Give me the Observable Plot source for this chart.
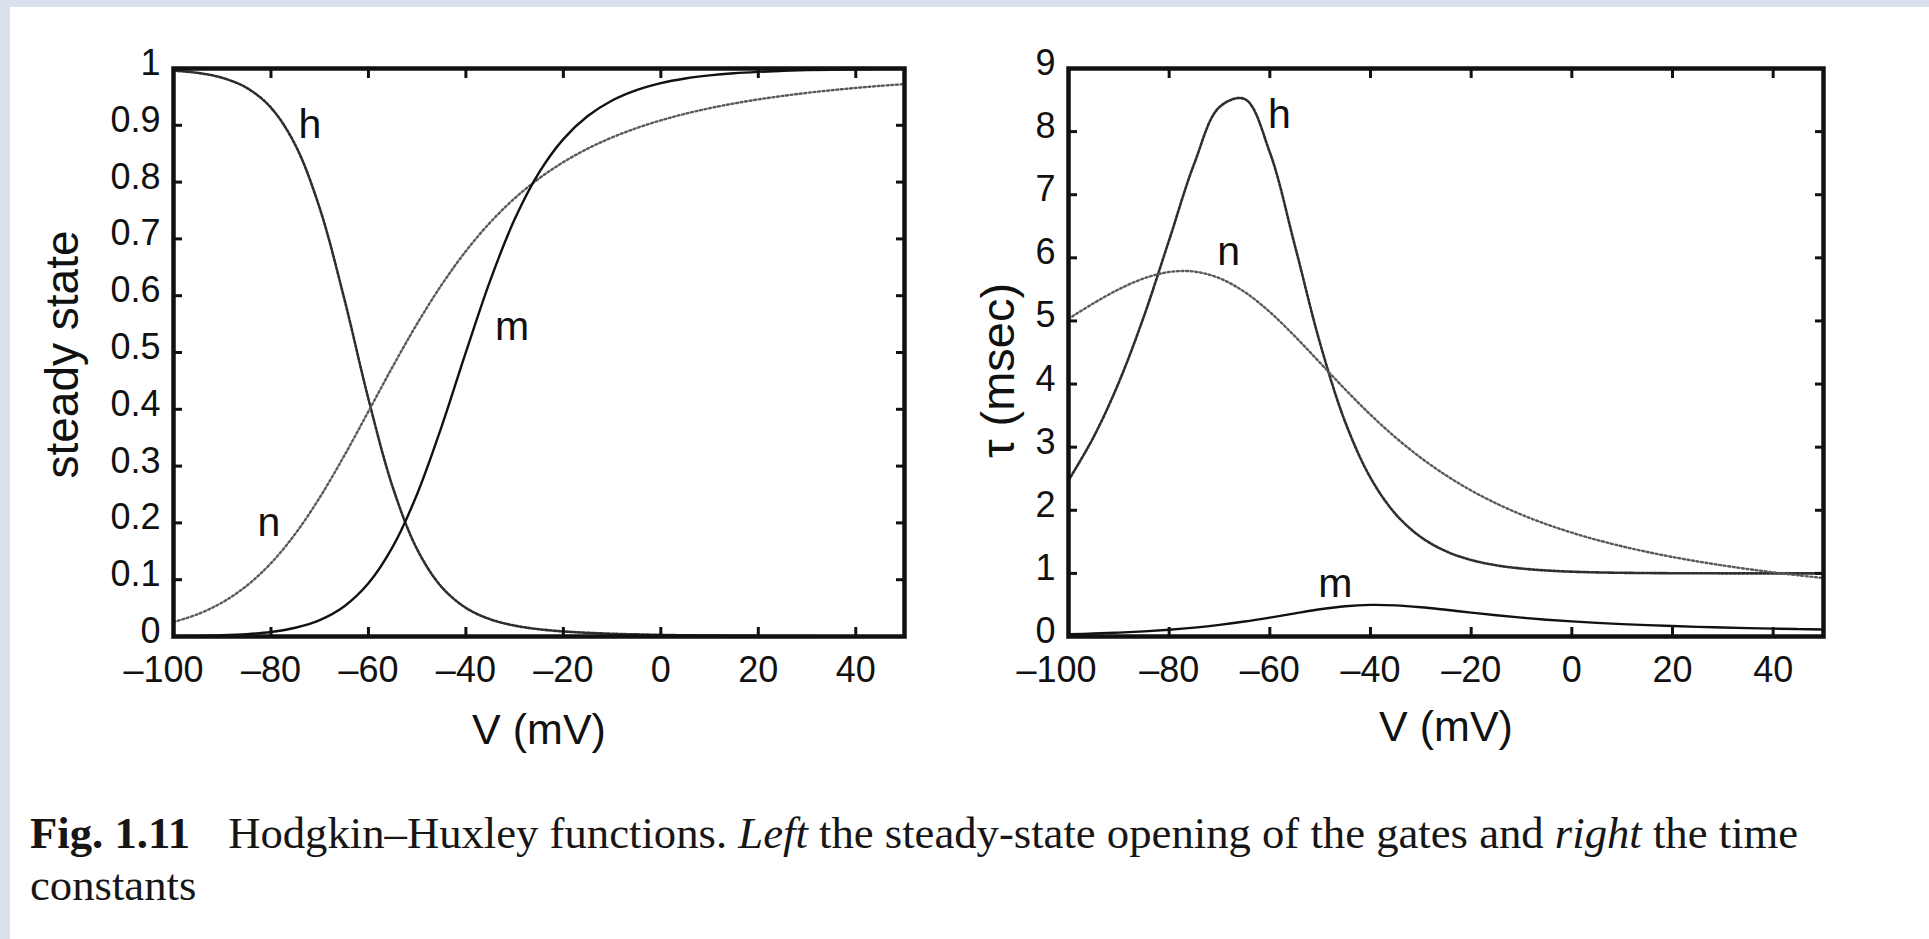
<!DOCTYPE html>
<html>
<head>
<meta charset="utf-8">
<script src="https://cdn.jsdelivr.net/npm/d3@7"></script>
<script src="https://cdn.jsdelivr.net/npm/@observablehq/plot@0.6"></script>
<style>
  html, body { margin: 0; padding: 0; width: 1929px; height: 939px; overflow: hidden; background: #d9e1ee; }
  #panel { position: absolute; left: 10px; top: 7px; right: 0; bottom: 0; background: #ffffff; }
  #left { position: absolute; left: 0; top: 0; }
  #right { position: absolute; left: 940px; top: 0; }
  #caption { position: absolute; left: 30px; top: 807px; font-family: "Liberation Serif", "Times New Roman", serif; font-size: 44.7px; line-height: 52px; color: #161616; white-space: nowrap; }
  .gap { display: inline-block; width: 38px; }
</style>
</head>
<body>
<div id="panel"></div>
<div id="left"></div>
<div id="right"></div>
<div id="caption"><b>Fig. 1.11</b><span class="gap"></span>Hodgkin–Huxley functions. <i>Left</i> the steady-state opening of the gates and <i>right</i> the time<br>constants</div>
<script>
// Membrane potential (mV)
const V = [-100, -95, -90, -85, -80, -75, -70, -65, -60, -55, -50, -45, -40, -35, -30, -25, -20, -15, -10, -5, 0, 5, 10, 15, 20, 25, 30, 35, 40, 45, 50];

// Steady-state gate openings (left panel)
const mInf = [0.0005, 0.0011, 0.0021, 0.0041, 0.0080, 0.0154, 0.0289, 0.0529, 0.0936, 0.1581, 0.2508, 0.3692, 0.5006, 0.6271, 0.7344, 0.8167, 0.8757, 0.9163, 0.9437, 0.9620, 0.9742, 0.9823, 0.9878, 0.9916, 0.9941, 0.9959, 0.9971, 0.9979, 0.9985, 0.9990, 0.9993];
const hInf = [0.9963, 0.9922, 0.9836, 0.9660, 0.9310, 0.8652, 0.7541, 0.5961, 0.4182, 0.2626, 0.1534, 0.0874, 0.0504, 0.0303, 0.0192, 0.0128, 0.0089, 0.0065, 0.0048, 0.0037, 0.0028, 0.0021, 0.0017, 0.0013, 0.0010, 0.0008, 0.0006, 0.0005, 0.0004, 0.0003, 0.0002];
const nInf = [0.0254, 0.0394, 0.0600, 0.0892, 0.1291, 0.1810, 0.2446, 0.3177, 0.3963, 0.4755, 0.5508, 0.6190, 0.6786, 0.7292, 0.7714, 0.8064, 0.8352, 0.8590, 0.8786, 0.8950, 0.9087, 0.9203, 0.9301, 0.9384, 0.9456, 0.9517, 0.9571, 0.9617, 0.9658, 0.9694, 0.9725];

// Time constants in msec (right panel)
const tauM = [0.0358, 0.0472, 0.0622, 0.0820, 0.1078, 0.1412, 0.1839, 0.2368, 0.2991, 0.3668, 0.4310, 0.4790, 0.5006, 0.4935, 0.4642, 0.4230, 0.3786, 0.3364, 0.2989, 0.2665, 0.2391, 0.2159, 0.1962, 0.1795, 0.1653, 0.1530, 0.1423, 0.1330, 0.1248, 0.1175, 0.1110];
const tauH = [2.4733, 3.1626, 4.0259, 5.0768, 6.2822, 7.4963, 8.3898, 8.5161, 7.6703, 6.1858, 4.6404, 3.3934, 2.5151, 1.9394, 1.5757, 1.3504, 1.2122, 1.1280, 1.0769, 1.0460, 1.0273, 1.0161, 1.0094, 1.0054, 1.0031, 1.0017, 1.0009, 1.0004, 1.0002, 1.0000, 1.0000];
const tauN = [5.0337, 5.2816, 5.5020, 5.6747, 5.7757, 5.7821, 5.6772, 5.4586, 5.1413, 4.7548, 4.3346, 3.9131, 3.5145, 3.1524, 2.8324, 2.5540, 2.3142, 2.1081, 1.9308, 1.7780, 1.6455, 1.5300, 1.4287, 1.3394, 1.2601, 1.1893, 1.1258, 1.0685, 1.0166, 0.9693, 0.9262];

// Ticks
const xTicks = [-100, -80, -60, -40, -20, 0, 20, 40];
const xTickFirst = [-100];
const xTicksRest = [-80, -60, -40, -20, 0, 20, 40];
const yTicksLeft = [0, 0.1, 0.2, 0.3, 0.4, 0.5, 0.6, 0.7, 0.8, 0.9, 1];
const yTicksRight = [0, 1, 2, 3, 4, 5, 6, 7, 8, 9];

// Axis titles
const xTitle = "V (mV)";
const yTitleLeft = "steady state";
const yTitleRight = "τ (msec)";

// Curve labels (name, V, value)
const leftLabelNames = ["h", "n", "m"];
const leftLabelV = [-72, -80.4, -30.5];
const leftLabelY = [0.9, 0.2, 0.545];
const rightLabelNames = ["h", "n", "m"];
const rightLabelV = [-58.1, -68.2, -47];
const rightLabelY = [8.27, 6.1, 0.84];

const fmtX = d => d < 0 ? "\u2013" + Math.abs(d) : String(d);
const fmtY = d => String(d);
const ink = "#111";
const blank = () => "";

function tickMarks(yTicks) {
  return [
    Plot.axisX(xTicks, {anchor: "bottom", tickSize: 9, dy: -9, tickFormat: blank, label: null, strokeWidth: 3, stroke: ink}),
    Plot.axisX(xTicks, {anchor: "top", tickSize: 9, dy: 9, tickFormat: blank, label: null, strokeWidth: 3, stroke: ink}),
    Plot.axisY(yTicks, {anchor: "left", tickSize: 9, dx: 9, tickFormat: blank, label: null, strokeWidth: 3, stroke: ink}),
    Plot.axisY(yTicks, {anchor: "right", tickSize: 9, dx: -9, tickFormat: blank, label: null, strokeWidth: 3, stroke: ink})
  ];
}

function xLabels(firstShift) {
  return [
    Plot.axisX(xTickFirst, {anchor: "bottom", tickSize: 0, tickPadding: 20, dx: firstShift, tickFormat: fmtX, label: null, fontSize: 36}),
    Plot.axisX(xTicksRest, {anchor: "bottom", tickSize: 0, tickPadding: 20, tickFormat: fmtX, label: null, fontSize: 36})
  ];
}

const common = {
  height: 760,
  marginTop: 68,
  marginBottom: 124,
  style: {fontFamily: "'Liberation Sans', Arial, Helvetica, sans-serif", fontSize: "36px", color: ink, background: "transparent", overflow: "visible"}
};

const hStyle = {stroke: "#2e2e2e", strokeWidth: 2.6, strokeDasharray: "2.4 1.8", curve: "catmull-rom"};
const nStyle = {stroke: "#5a5a5a", strokeWidth: 2.4, strokeDasharray: "2 2.6", curve: "catmull-rom"};
const mStyle = {stroke: "#111", strokeWidth: 2.4, curve: "catmull-rom"};

const titleStyle = {text: d => d, fontSize: 43, fill: ink, textAnchor: "middle", lineAnchor: "middle"};

const left = Plot.plot({
  ...common,
  width: 940,
  marginLeft: 173,
  marginRight: 36,
  x: {domain: [-100, 50]},
  y: {domain: [0, 1]},
  marks: [
    Plot.line(V, {x: d => d, y: hInf, ...hStyle}),
    Plot.line(V, {x: d => d, y: nInf, ...nStyle}),
    Plot.line(V, {x: d => d, y: mInf, ...mStyle}),
    ...xLabels(-10),
    Plot.axisY(yTicksLeft, {anchor: "left", tickSize: 0, tickPadding: 13, dy: -5, tickFormat: fmtY, label: null, fontSize: 36}),
    ...tickMarks(yTicksLeft),
    Plot.frame({stroke: ink, strokeWidth: 4.5}),
    Plot.text(leftLabelNames, {x: leftLabelV, y: leftLabelY, text: d => d, fontSize: 41, fill: ink}),
    Plot.text([xTitle], {frameAnchor: "bottom", dy: 94, ...titleStyle}),
    Plot.text([yTitleLeft], {frameAnchor: "left", rotate: -90, dx: -110, dy: 2, ...titleStyle, fontSize: 46})
  ]
});
document.getElementById("left").append(left);

const right = Plot.plot({
  ...common,
  width: 989,
  marginLeft: 128,
  marginRight: 106,
  x: {domain: [-100, 50]},
  y: {domain: [0, 9]},
  marks: [
    Plot.line(V, {x: d => d, y: tauH, ...hStyle}),
    Plot.line(V, {x: d => d, y: tauN, ...nStyle}),
    Plot.line(V, {x: d => d, y: tauM, ...mStyle}),
    ...xLabels(-12),
    Plot.axisY(yTicksRight, {anchor: "left", tickSize: 0, tickPadding: 13, dy: -5, tickFormat: fmtY, label: null, fontSize: 36}),
    ...tickMarks(yTicksRight),
    Plot.frame({stroke: ink, strokeWidth: 4.5}),
    Plot.text(rightLabelNames, {x: rightLabelV, y: rightLabelY, text: d => d, fontSize: 41, fill: ink}),
    Plot.text([xTitle], {frameAnchor: "bottom", dy: 91, ...titleStyle}),
    Plot.text([yTitleRight], {frameAnchor: "left", rotate: -90, dx: -70, dy: 18, ...titleStyle, fontSize: 47})
  ]
});
document.getElementById("right").append(right);
</script>
</body>
</html>
